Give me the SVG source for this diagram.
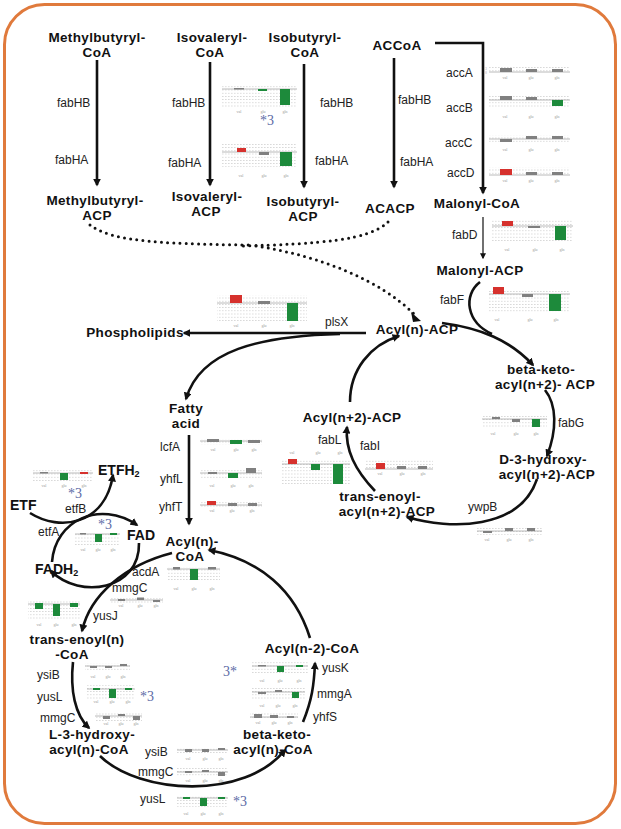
<svg xmlns="http://www.w3.org/2000/svg" width="621" height="829" viewBox="0 0 621 829">
<style>
.n{font-family:"Liberation Sans",Arial,sans-serif;font-weight:bold;font-size:13.5px;fill:#111;text-anchor:middle;letter-spacing:0.35px}
.ns{font-family:"Liberation Sans",Arial,sans-serif;font-weight:bold;font-size:14px;fill:#111}
.e{font-family:"Liberation Sans",Arial,sans-serif;font-size:12px;fill:#222}
.st{font-family:"Liberation Serif","Times New Roman",serif;font-size:14px;fill:#5b6aa6}
.ax{font-family:"Liberation Serif",serif;font-size:4px;fill:#9a9a9a;text-anchor:middle}
.tk{font-family:"Liberation Serif",serif;font-size:3px;fill:#9a9a9a;text-anchor:middle}
.gd{fill:url(#gp)}
.bl{stroke:#a8a8a8;stroke-width:0.8}
.g{fill:#808080}
.r{fill:#d6312d}
.v{fill:#1d8a3b}
.c{fill:none;stroke:#111;stroke-width:2.6;marker-end:url(#ah)}
.t{fill:none;stroke:#111;stroke-width:1.2;marker-end:url(#ahs)}
.d{fill:none;stroke:#111;stroke-width:3;stroke-dasharray:0 6.2;stroke-linecap:round}
</style>
<defs>
<pattern id="gp" width="3" height="3.2" patternUnits="userSpaceOnUse"><rect width="1.6" height="0.5" fill="#b8b8b8"/></pattern>
<marker id="ah" viewBox="0 0 10 10" refX="8" refY="5" markerWidth="8" markerHeight="8" markerUnits="userSpaceOnUse" orient="auto"><path d="M0,0 L10,5 L0,10 z" fill="#111"/></marker>
<marker id="ahs" viewBox="0 0 10 10" refX="8" refY="5" markerWidth="6" markerHeight="6" markerUnits="userSpaceOnUse" orient="auto"><path d="M0,0 L10,5 L0,10 z" fill="#111"/></marker>
</defs>
<rect x="4.5" y="4.5" width="611" height="819" rx="40" fill="#fff" stroke="#e07a3c" stroke-width="3"/>

<g id="connectors">
<path class="c" d="M97 60 L97 185"/>
<path class="c" d="M210 62 L210 185"/>
<path class="c" d="M304 64 L304 187"/>
<path class="c" d="M394 58 L394 187"/>
<path class="c" d="M435 43 L483 43 L483 193"/>
<path class="t" d="M483 217 L483 258"/>
<path class="d" d="M90 225 C110 240 150 244 250 245"/>
<path class="d" d="M388 222 C370 240 320 244 240 246"/>
<path class="d" d="M256 246 C320 256 380 280 414 314"/>
<path d="M411 312 L421 321 L413 322 z" fill="#111"/>
<path class="c" d="M366 333 L184 333"/>
<path class="c" d="M340 334 C260 336 200 350 186 399"/>
<path class="c" d="M442 323 C480 328 510 340 533 365"/>
<path fill="none" stroke="#111" stroke-width="2.6" d="M480 282 C463 295 466 322 492 334"/>
<path class="c" d="M545 390 C557 405 557 430 547 456"/>
<path class="c" d="M537 479 C520 530 450 530 407 517"/>
<path class="c" d="M375 491 C355 470 345 450 347 427"/>
<path class="c" d="M350 402 C350 370 370 345 399 336"/>
<path class="c" d="M189 435 L189 524"/>
<path class="c" d="M30 513 C60 532 105 525 113 475"/>
<path class="c" d="M52 562 C55 520 100 500 137 525"/>
<path class="c" d="M139 543 C140 590 80 600 51 571"/>
<path class="c" d="M172 553 C125 565 90 595 82 631"/>
<path class="c" d="M73 662 C70 690 75 715 89 728"/>
<path class="c" d="M100 756 C140 795 245 800 285 750"/>
<path class="c" d="M303 722 C312 700 314 685 315 663"/>
<path class="c" d="M310 638 C295 590 260 560 209 550"/>
</g>

<g id="n-methylbutyryl-coa"><text class="n" x="97" y="42">Methylbutyryl-</text><text class="n" x="97" y="57">CoA</text></g>
<g id="n-isovaleryl-coa"><text class="n" x="212" y="42">Isovaleryl-</text><text class="n" x="210" y="57">CoA</text></g>
<g id="n-isobutyryl-coa"><text class="n" x="305" y="42">Isobutyryl-</text><text class="n" x="305" y="57">CoA</text></g>
<g id="n-accoa"><text class="n" x="397" y="50">ACCoA</text></g>
<g id="n-methylbutyryl-acp"><text class="n" x="95" y="205">Methylbutyryl-</text><text class="n" x="97" y="220">ACP</text></g>
<g id="n-isovaleryl-acp"><text class="n" x="207" y="201">Isovaleryl-</text><text class="n" x="206" y="216">ACP</text></g>
<g id="n-isobutyryl-acp"><text class="n" x="303" y="206">Isobutyryl-</text><text class="n" x="303" y="221">ACP</text></g>
<g id="n-acacp"><text class="n" x="390" y="213">ACACP</text></g>
<g id="n-malonyl-coa"><text class="n" x="477" y="208">Malonyl-CoA</text></g>
<g id="n-malonyl-acp"><text class="n" x="480" y="275">Malonyl-ACP</text></g>
<g id="n-acyl-acp"><text class="n" x="417" y="334">Acyl(n)-ACP</text></g>
<g id="n-phospholipids"><text class="n" x="135" y="337">Phospholipids</text></g>
<g id="n-betaketo-acp"><text class="n" x="541" y="374">beta-keto-</text><text class="n" x="545" y="389">acyl(n+2)- ACP</text></g>
<g id="n-d3hydroxy-acp"><text class="n" x="543" y="464">D-3-hydroxy-</text><text class="n" x="547" y="479">acyl(n+2)-ACP</text></g>
<g id="n-transenoyl-acp"><text class="n" x="380" y="501">trans-enoyl-</text><text class="n" x="387" y="516">acyl(n+2)-ACP</text></g>
<g id="n-acyl2-acp"><text class="n" x="352" y="422">Acyl(n+2)-ACP</text></g>
<g id="n-fatty-acid"><text class="n" x="186" y="413">Fatty</text><text class="n" x="186" y="428">acid</text></g>
<g id="n-acyl-coa"><text class="n" x="192" y="546">Acyl(n)-</text><text class="n" x="190" y="561">CoA</text></g>
<g id="n-etfh2"><text class="ns" x="98" y="475">ETFH<tspan font-size="9px" dy="2">2</tspan></text></g>
<g id="n-etf"><text class="ns" x="10" y="510">ETF</text></g>
<g id="n-fad"><text class="ns" x="127" y="540">FAD</text></g>
<g id="n-fadh2"><text class="ns" x="35" y="574">FADH<tspan font-size="9px" dy="2">2</tspan></text></g>
<g id="n-transenoyl-coa"><text class="n" x="77" y="644">trans-enoyl(n)</text><text class="n" x="72" y="659">-CoA</text></g>
<g id="n-l3hydroxy-coa"><text class="n" x="92" y="739">L-3-hydroxy-</text><text class="n" x="89" y="754">acyl(n)-CoA</text></g>
<g id="n-betaketo-coa"><text class="n" x="277" y="739">beta-keto-</text><text class="n" x="273" y="754">acyl(n)-CoA</text></g>
<g id="n-acyl-n2-coa"><text class="n" x="312" y="653">Acyl(n-2)-CoA</text></g>

<g id="genes">
<text class="e" x="57" y="107">fabHB</text><text class="e" x="55" y="164">fabHA</text>
<text class="e" x="172" y="107">fabHB</text><text class="e" x="168" y="167">fabHA</text>
<text class="e" x="320" y="107">fabHB</text><text class="e" x="315" y="165">fabHA</text>
<text class="e" x="398" y="104">fabHB</text><text class="e" x="400" y="166">fabHA</text>
<text class="e" x="446" y="77">accA</text><text class="e" x="446" y="112">accB</text>
<text class="e" x="445" y="147">accC</text><text class="e" x="447" y="177">accD</text>
<text class="e" x="452" y="239">fabD</text><text class="e" x="440" y="304">fabF</text>
<text class="e" x="325" y="326">plsX</text><text class="e" x="558" y="427">fabG</text>
<text class="e" x="468" y="511">ywpB</text><text class="e" x="318" y="444">fabL</text>
<text class="e" x="360" y="450">fabI</text>
<text class="e" x="160" y="451">lcfA</text><text class="e" x="160" y="483">yhfL</text><text class="e" x="159" y="511">yhfT</text>
<text class="e" x="65" y="513">etfB</text><text class="e" x="38" y="536">etfA</text>
<text class="e" x="132" y="576">acdA</text><text class="e" x="112" y="592">mmgC</text><text class="e" x="93" y="620">yusJ</text>
<text class="e" x="37" y="679">ysiB</text><text class="e" x="37" y="701">yusL</text><text class="e" x="40" y="722">mmgC</text>
<text class="e" x="145" y="756">ysiB</text><text class="e" x="138" y="776">mmgC</text><text class="e" x="140" y="803">yusL</text>
<text class="e" x="322" y="672">yusK</text><text class="e" x="317" y="698">mmgA</text><text class="e" x="313" y="721">yhfS</text>
<text class="st" x="260" y="125">*3</text>
<text class="st" x="68" y="498" font-size="13px">*3</text>
<text class="st" x="98" y="529">*3</text>
<text class="st" x="140" y="701">*3</text>
<text class="st" x="233" y="806">*3</text>
<text class="st" x="223" y="676">3*</text>
</g>

<g id="c-isov-fabHB"><rect class="gd" x="222" y="85" width="75" height="22"/><line class="bl" x1="222" x2="297" y1="89" y2="89"/>
<rect class="g" x="234" y="88" width="10" height="1.5"/><rect class="v" x="258" y="89" width="9" height="2"/><rect class="v" x="280" y="89" width="10" height="16"/>
<text class="ax" x="239" y="113">val</text><text class="ax" x="263" y="113">glu</text><text class="ax" x="285" y="113">gln</text></g>
<g id="c-isov-fabHA"><rect class="gd" x="222" y="144" width="75" height="23"/><line class="bl" x1="222" x2="297" y1="152" y2="152"/>
<rect class="r" x="237" y="148" width="9" height="4"/><rect class="g" x="259" y="152" width="10" height="3"/><rect class="v" x="280" y="152" width="12" height="14"/>
<text class="ax" x="241" y="177">val</text><text class="ax" x="264" y="177">glu</text><text class="ax" x="286" y="177">gln</text></g>

<g id="c-accA"><rect class="gd" x="489" y="67" width="81" height="5"/><line class="bl" x1="489" x2="570" y1="72" y2="72"/>
<rect class="g" x="500" y="68" width="12" height="4"/><rect class="g" x="526" y="69" width="11" height="3"/><rect class="g" x="552" y="69" width="11" height="3"/>
<text class="tk" x="486" y="69.5">3</text><text class="tk" x="486" y="74">0</text>
<text class="ax" x="505" y="79">val</text><text class="ax" x="531" y="79">glu</text><text class="ax" x="557" y="79">gln</text></g>
<g id="c-accB"><rect class="gd" x="489" y="95" width="81" height="12"/><line class="bl" x1="489" x2="570" y1="100" y2="100"/>
<rect class="g" x="500" y="96" width="12" height="4"/><rect class="g" x="526" y="97" width="11" height="3"/><rect class="v" x="552" y="100" width="11" height="6"/>
<text class="ax" x="505" y="118">val</text><text class="ax" x="531" y="118">glu</text><text class="ax" x="557" y="118">gln</text></g>
<g id="c-accC"><rect class="gd" x="489" y="135" width="81" height="8"/><line class="bl" x1="489" x2="570" y1="139" y2="139"/>
<rect class="g" x="500" y="139" width="12" height="3"/><rect class="g" x="526" y="136" width="11" height="3"/><rect class="g" x="552" y="136" width="11" height="3"/>
<text class="ax" x="505" y="151">val</text><text class="ax" x="531" y="151">glu</text><text class="ax" x="557" y="151">gln</text></g>
<g id="c-accD"><rect class="gd" x="489" y="167" width="81" height="8"/><line class="bl" x1="489" x2="570" y1="175" y2="175"/>
<rect class="r" x="500" y="169" width="12" height="6"/><rect class="g" x="526" y="172" width="11" height="3"/><rect class="g" x="552" y="172" width="11" height="3"/>
<text class="ax" x="505" y="182">val</text><text class="ax" x="531" y="182">glu</text><text class="ax" x="557" y="182">gln</text></g>

<g id="c-fabD"><rect class="gd" x="492" y="220" width="81" height="22"/><line class="bl" x1="492" x2="573" y1="226" y2="226"/>
<rect class="r" x="502" y="221" width="11" height="5"/><rect class="g" x="528" y="226" width="12" height="2"/><rect class="v" x="555" y="226" width="11" height="14"/>
<text class="ax" x="507" y="251">val</text><text class="ax" x="535" y="251">glu</text><text class="ax" x="562" y="251">gln</text></g>
<g id="c-fabF"><rect class="gd" x="489" y="289" width="81" height="23"/><line class="bl" x1="489" x2="570" y1="294" y2="294"/>
<rect class="r" x="493" y="287" width="11" height="7"/><rect class="g" x="522" y="294" width="11" height="3"/><rect class="v" x="549" y="294" width="12" height="17"/>
<text class="ax" x="497" y="321">val</text><text class="ax" x="530" y="321">glu</text><text class="ax" x="556" y="321">gln</text></g>
<g id="c-plsX"><rect class="gd" x="217" y="295" width="90" height="28"/><line class="bl" x1="217" x2="307" y1="303" y2="303"/>
<rect class="r" x="230" y="295" width="12" height="8"/><rect class="g" x="258" y="301" width="12" height="3"/><rect class="v" x="287" y="303" width="11" height="18"/>
<text class="ax" x="236" y="327">val</text><text class="ax" x="264" y="327">glu</text><text class="ax" x="292" y="327">gln</text></g>
<g id="c-fabG"><rect class="gd" x="482" y="415" width="65" height="13"/><line class="bl" x1="482" x2="547" y1="419" y2="419"/>
<rect class="g" x="492" y="417" width="8" height="2"/><rect class="g" x="512" y="419" width="8" height="3"/><rect class="v" x="532" y="419" width="8" height="8"/>
<text class="ax" x="493" y="435">val</text><text class="ax" x="516" y="435">glu</text><text class="ax" x="536" y="435">gln</text></g>
<g id="c-ywpB"><rect class="gd" x="477" y="526" width="65" height="9"/><line class="bl" x1="477" x2="542" y1="531" y2="531"/>
<rect class="g" x="483" y="531" width="9" height="2"/><rect class="g" x="505" y="528" width="8" height="3"/><rect class="g" x="527" y="528" width="8" height="3"/>
<text class="ax" x="487" y="541">val</text><text class="ax" x="509" y="541">glu</text><text class="ax" x="531" y="541">gln</text></g>
<g id="c-fabL"><rect class="gd" x="282" y="460" width="68" height="24"/><line class="bl" x1="282" x2="350" y1="464" y2="464"/>
<rect class="r" x="288" y="459" width="9" height="5"/><rect class="v" x="311" y="464" width="9" height="6"/><rect class="v" x="333" y="464" width="10" height="20"/>
<text class="ax" x="292" y="454">val</text><text class="ax" x="318" y="454">glu</text><text class="ax" x="340" y="454">gln</text></g>
<g id="c-fabI"><rect class="gd" x="365" y="460" width="68" height="9"/><line class="bl" x1="365" x2="433" y1="469" y2="469"/>
<rect class="r" x="376" y="463" width="9" height="6"/><rect class="g" x="397" y="466" width="9" height="3"/><rect class="g" x="418" y="466" width="9" height="3"/>
<text class="ax" x="380" y="475">val</text><text class="ax" x="402" y="475">glu</text><text class="ax" x="423" y="475">gln</text></g>

<g id="c-lcfA"><rect class="gd" x="200" y="439" width="62" height="6"/><line class="bl" x1="200" x2="262" y1="441" y2="441"/>
<rect class="g" x="207" y="439" width="12" height="3"/><rect class="v" x="230" y="440" width="12" height="4"/><rect class="g" x="248" y="440" width="12" height="3"/>
<text class="ax" x="213" y="451">val</text><text class="ax" x="236" y="451">glu</text><text class="ax" x="254" y="451">gln</text></g>
<g id="c-yhfL"><rect class="gd" x="200" y="468" width="62" height="10"/><line class="bl" x1="200" x2="262" y1="473" y2="473"/>
<rect class="g" x="208" y="472" width="9" height="2"/><rect class="v" x="228" y="473" width="10" height="5"/><rect class="g" x="246" y="468" width="10" height="5"/>
<text class="ax" x="212" y="487">val</text><text class="ax" x="233" y="487">glu</text><text class="ax" x="251" y="487">gln</text></g>
<g id="c-yhfT"><rect class="gd" x="200" y="502" width="62" height="5"/><line class="bl" x1="200" x2="262" y1="505" y2="505"/>
<rect class="r" x="207" y="501" width="9" height="4"/><rect class="g" x="228" y="503" width="9" height="3"/><rect class="g" x="248" y="503" width="9" height="3"/>
<text class="ax" x="212" y="512">val</text><text class="ax" x="232" y="512">glu</text><text class="ax" x="252" y="512">gln</text></g>

<g id="c-etf"><rect class="gd" x="33" y="470" width="60" height="13"/><line class="bl" x1="33" x2="93" y1="473" y2="473"/>
<rect class="g" x="40" y="472" width="8" height="1.5"/><rect class="v" x="60" y="473" width="8" height="7"/><rect class="r" x="80" y="472" width="8" height="2"/>
<text class="ax" x="44" y="487">val</text><text class="ax" x="64" y="487">glu</text><text class="ax" x="84" y="487">gln</text></g>
<g id="c-fad"><rect class="gd" x="75" y="532" width="45" height="13"/><line class="bl" x1="75" x2="120" y1="534" y2="534"/>
<rect class="g" x="80" y="533" width="6" height="1.5"/><rect class="v" x="95" y="534" width="7" height="8"/><rect class="v" x="110" y="533" width="7" height="2"/>
<text class="ax" x="83" y="551">val</text><text class="ax" x="98" y="551">glu</text><text class="ax" x="113" y="551">gln</text></g>
<g id="c-acdA"><rect class="gd" x="167" y="567" width="53" height="15"/><line class="bl" x1="167" x2="220" y1="569" y2="569"/>
<rect class="g" x="173" y="567" width="7" height="2.5"/><rect class="v" x="190" y="569" width="8" height="11"/><rect class="g" x="208" y="567" width="8" height="2.5"/>
<text class="ax" x="176" y="590">val</text><text class="ax" x="194" y="590">glu</text><text class="ax" x="212" y="590">gln</text></g>
<g id="c-mmgC1"><rect class="gd" x="110" y="597" width="53" height="6"/><line class="bl" x1="110" x2="163" y1="600" y2="600"/>
<rect class="g" x="118" y="599" width="7" height="2"/><rect class="g" x="137" y="597.5" width="7" height="2.5"/><rect class="g" x="153" y="600" width="7" height="2"/>
<text class="ax" x="121" y="607">val</text><text class="ax" x="140" y="607">glu</text><text class="ax" x="156" y="607">gln</text></g>
<g id="c-yusJ"><rect class="gd" x="28" y="601" width="52" height="19"/><line class="bl" x1="28" x2="80" y1="604" y2="604"/>
<rect class="v" x="35" y="603" width="8" height="6"/><rect class="v" x="53" y="604" width="7" height="12"/><rect class="v" x="70" y="603" width="8" height="4"/>
<text class="ax" x="39" y="626">val</text><text class="ax" x="56" y="626">glu</text><text class="ax" x="74" y="626">gln</text></g>
<g id="c-ysiB1"><rect class="gd" x="85" y="663" width="45" height="9"/><line class="bl" x1="85" x2="130" y1="666" y2="666"/>
<rect class="g" x="90" y="666" width="7" height="2"/><rect class="g" x="105" y="666" width="7" height="2"/><rect class="g" x="120" y="664" width="7" height="2"/>
<text class="ax" x="93" y="678">val</text><text class="ax" x="108" y="678">glu</text><text class="ax" x="123" y="678">gln</text></g>
<g id="c-yusL1"><rect class="gd" x="87" y="685" width="48" height="14"/><line class="bl" x1="87" x2="135" y1="689" y2="689"/>
<rect class="v" x="93" y="688" width="7" height="2"/><rect class="v" x="109" y="689" width="7" height="9"/><rect class="v" x="125" y="688" width="7" height="2"/>
<text class="ax" x="96" y="703">val</text><text class="ax" x="112" y="703">glu</text><text class="ax" x="128" y="703">gln</text></g>
<g id="c-mmgC2"><rect class="gd" x="95" y="712" width="47" height="9"/><line class="bl" x1="95" x2="142" y1="716" y2="716"/>
<rect class="g" x="103" y="716" width="7" height="3"/><rect class="g" x="118" y="714" width="7" height="2"/><rect class="g" x="133" y="716" width="7" height="4"/>
<text class="ax" x="106" y="725">val</text><text class="ax" x="121" y="725">glu</text><text class="ax" x="136" y="725">gln</text></g>
<g id="c-ysiB2"><rect class="gd" x="177" y="747" width="51" height="8"/><line class="bl" x1="177" x2="228" y1="750" y2="750"/>
<rect class="g" x="185" y="749" width="7" height="3"/><rect class="g" x="202" y="749" width="7" height="3"/><rect class="g" x="218" y="748" width="7" height="2"/>
<text class="ax" x="188" y="760">val</text><text class="ax" x="205" y="760">glu</text><text class="ax" x="221" y="760">gln</text></g>
<g id="c-mmgC3"><rect class="gd" x="177" y="768" width="51" height="9"/><line class="bl" x1="177" x2="228" y1="772" y2="772"/>
<rect class="g" x="185" y="771" width="7" height="2"/><rect class="g" x="202" y="770" width="7" height="2"/><rect class="g" x="218" y="772" width="7" height="4"/>
<text class="ax" x="188" y="782">val</text><text class="ax" x="205" y="782">glu</text><text class="ax" x="221" y="782">gln</text></g>
<g id="c-yusL2"><rect class="gd" x="177" y="795" width="51" height="12"/><line class="bl" x1="177" x2="228" y1="798" y2="798"/>
<rect class="v" x="183" y="797" width="7" height="2"/><rect class="v" x="200" y="798" width="7" height="8"/><rect class="v" x="218" y="797" width="7" height="2"/>
<text class="ax" x="186" y="815">val</text><text class="ax" x="203" y="815">glu</text><text class="ax" x="221" y="815">gln</text></g>
<g id="c-yusK"><rect class="gd" x="252" y="662" width="56" height="11"/><line class="bl" x1="252" x2="308" y1="666" y2="666"/>
<rect class="g" x="258" y="665" width="8" height="1.5"/><rect class="v" x="277" y="666" width="7" height="6"/><rect class="v" x="296" y="665" width="7" height="2"/>
<text class="ax" x="262" y="682">val</text><text class="ax" x="280" y="682">glu</text><text class="ax" x="299" y="682">gln</text></g>
<g id="c-mmgA"><rect class="gd" x="252" y="688" width="53" height="11"/><line class="bl" x1="252" x2="305" y1="692" y2="692"/>
<rect class="g" x="258" y="692" width="8" height="2"/><rect class="g" x="275" y="690" width="7" height="2"/><rect class="v" x="292" y="692" width="7" height="6"/>
<text class="ax" x="262" y="707">val</text><text class="ax" x="278" y="707">glu</text><text class="ax" x="295" y="707">gln</text></g>
<g id="c-yhfS"><rect class="gd" x="250" y="713" width="48" height="5"/><line class="bl" x1="250" x2="298" y1="717" y2="717"/>
<rect class="g" x="254" y="714" width="8" height="4"/><rect class="g" x="270" y="715" width="8" height="3"/><rect class="g" x="287" y="716" width="7" height="2"/>
<text class="ax" x="258" y="724">val</text><text class="ax" x="274" y="724">glu</text><text class="ax" x="290" y="724">gln</text></g>
</svg>
